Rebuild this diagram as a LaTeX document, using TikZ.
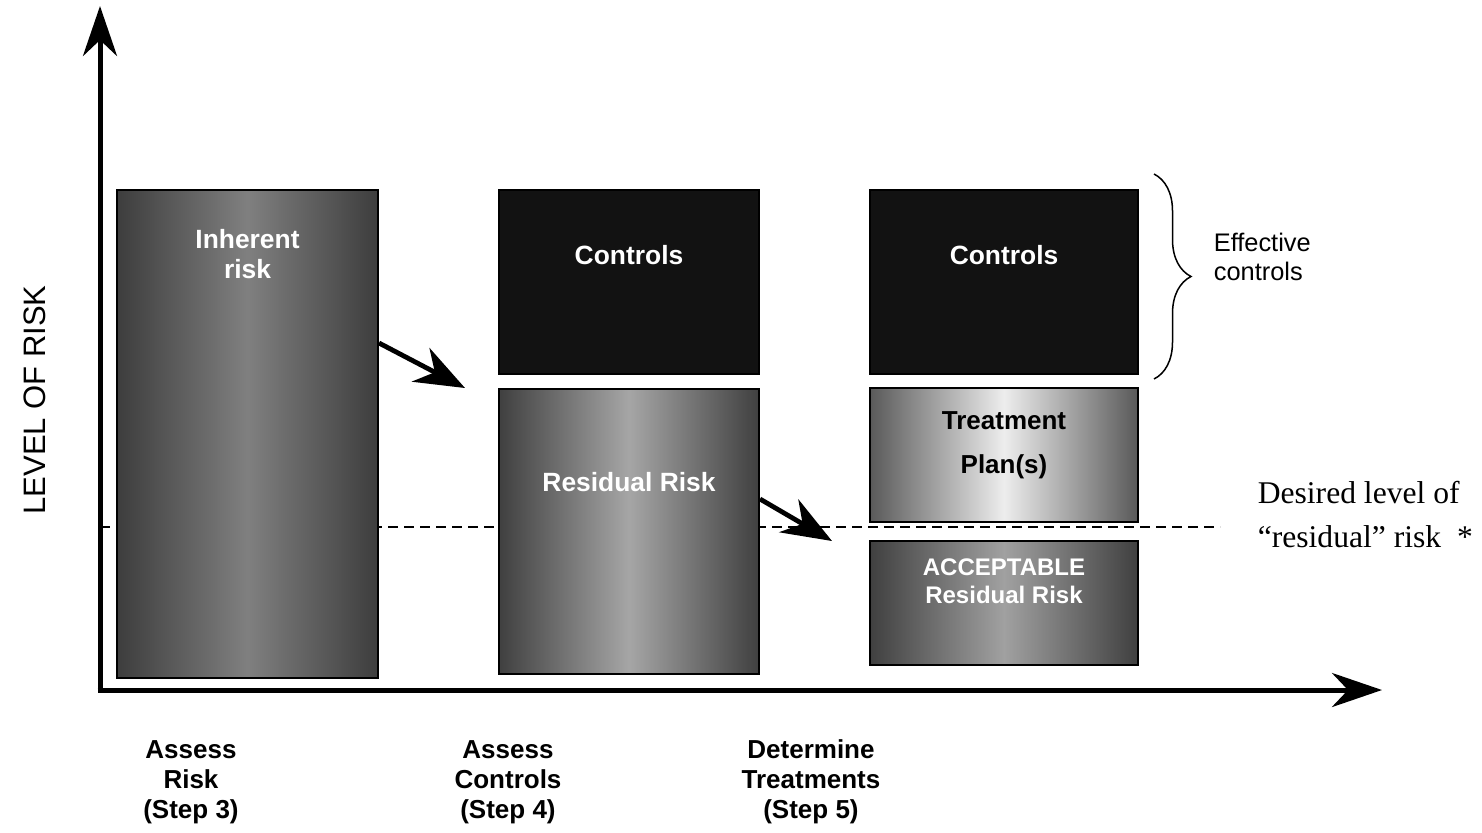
\documentclass[tikz,border=0pt]{standalone}
\usepackage{fontspec}
\setmainfont{Liberation Sans}
\newfontfamily\timesfont{Liberation Serif}
\usetikzlibrary{arrows.meta,positioning,decorations.pathreplacing}

\begin{document}
\begin{tikzpicture}[x=0.5pt, y=-0.5pt, thick,
    block/.style={rectangle, draw=black, line width=1pt, inner sep=0pt},
    gradbox/.style 2 args={block, left color=#1, right color=#1, middle color=#2},
    ctlbox/.style={block, fill=black!93, minimum width=#1, minimum height=92pt},
    boxtext/.style={font=\bfseries\fontsize{13.2}{15}\selectfont, text=white, align=center, inner sep=0pt},
    steplbl/.style={font=\bfseries\fontsize{13}{15}\selectfont, align=center, inner sep=0pt},
    axis/.style={line width=2.5pt, -{Stealth[length=25pt, width=17pt, inset=8pt]}},
    line/.style={draw, line width=2.4pt, -{Stealth[length=25pt, width=19pt, inset=8pt]}}]

    \useasboundingbox (0,0) rectangle (1482,832);

    % axes and desired level
    \coordinate (orig) at (100,690);
    \coordinate (ytip) at (100,6);
    \coordinate (xtip) at (1382,690);
    \coordinate (lvl) at (100,527);
    \coordinate (lvlend) at (1220,527);
    \draw[dash pattern=on 5pt off 3pt, line width=0.75pt] (lvl) -- (lvlend);
    \draw[axis] (orig) -- (ytip);
    \draw[axis] ([xshift=-1.25pt]orig) -- (xtip);

    \node[rotate=90, font=\fontsize{15.5}{18}\selectfont] (lor) at (35,400) {LEVEL OF RISK};

    % boxes
    \node[gradbox={black!76}{black!50}, minimum width=130.5pt, minimum height=244pt] (inh) at (247.5,434) {};
    \node[ctlbox=130pt, right=59.5pt of inh.north east, anchor=north west] (ctl1) {};
    \node[gradbox={black!75}{black!35}, minimum width=130pt, minimum height=142.5pt, below=6.5pt of ctl1] (res) {};
    \node[ctlbox=134pt, right=54.5pt of ctl1] (ctl2) {};
    \node[gradbox={black!65}{black!7}, minimum width=134pt, minimum height=67pt, below=6pt of ctl2] (treat) {};
    \node[gradbox={black!75}{black!37}, minimum width=134pt, minimum height=62pt, below=8.5pt of treat] (acc) {};

    \node[boxtext] (inhtxt) at ([yshift=-32.5pt]inh.north) {Inherent\\risk};
    \node[boxtext] (ctl1txt) at ([yshift=-33pt]ctl1.north) {Controls};
    \node[boxtext] (restxt) at ([yshift=-47pt]res.north) {Residual Risk};
    \node[boxtext] (ctl2txt) at ([yshift=-33pt]ctl2.north) {Controls};
    \node[boxtext, text=black, font=\bfseries\fontsize{13}{22}\selectfont] (treattxt) at ([yshift=-29pt]treat.north) {Treatment\\Plan(s)};
    \node[boxtext, font=\bfseries\fontsize{12}{14}\selectfont] (acctxt) at ([yshift=-20.5pt]acc.north) {ACCEPTABLE\\Residual Risk};

    % arrows between stages
    \path[line] ([yshift=45.5pt]inh.east) -- ([xshift=-16.5pt]res.north west);
    \path[line] ([yshift=16.25pt]res.east) -- ([xshift=-18.5pt, yshift=-0.5pt]acc.north west);

    % brace
    \draw[decorate, decoration={brace, amplitude=18.5pt}, line width=0.75pt]
        ([xshift=7.5pt, yshift=7.5pt]ctl2.north east) -- ([xshift=7.5pt, yshift=-2pt]ctl2.south east);
    \node[anchor=west, align=left, inner sep=0pt, font=\fontsize{12.7}{14.5}\selectfont] (eff) at (1213,257) {Effective\\controls};

    \node[anchor=west, align=left, inner sep=0pt, font=\timesfont\fontsize{15.8}{22}\selectfont] (desired) at (1257,515)
        {Desired level of\\“residual” risk\ \ *};

    % steps
    \node[steplbl] (stp3) at (191,782) {Assess\\Risk\\(Step 3)};
    \node[steplbl] (stp4) at (508,782) {Assess\\Controls\\(Step 4)};
    \node[steplbl] (stp5) at (811,782) {Determine\\Treatments\\(Step 5)};
\end{tikzpicture}
\end{document}
